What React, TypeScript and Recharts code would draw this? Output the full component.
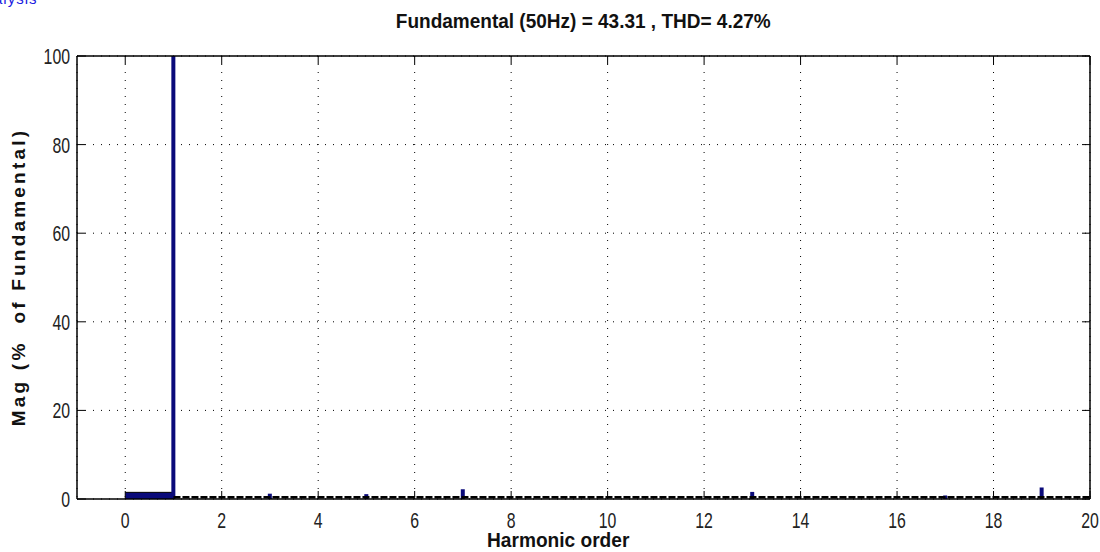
import React from "react";
import {
  ComposedChart,
  Bar,
  Line,
  Area,
  XAxis,
  YAxis,
  CartesianGrid,
} from "recharts";

// Harmonic spectrum (magnitude in % of fundamental)
const harmonicOrder = [1, 3, 5, 7, 13, 17, 19];
const magnitude = [100, 1.2, 1.1, 2.2, 1.6, 0.8, 2.6];

// Low-frequency band below the fundamental (0..1) drawn as a filled block
const bandOrder = [0, 1];
const bandLevel = [1.5, 1.5];

// Interharmonic floor above the fundamental
const floorOrder = [1, 20];
const floorLevel = [0.4, 0.4];

const xTicks = [0, 2, 4, 6, 8, 10, 12, 14, 16, 18, 20];
const yTicks = [0, 20, 40, 60, 80, 100];

const NAVY = "#0a0a7a";
const FONT = "'Liberation Sans', Arial, sans-serif";
const NARROW = 0.72; // horizontal squeeze to mimic the narrow screen font

// merge everything into one table keyed by harmonic order
const allX = Array.from(new Set([...harmonicOrder, ...bandOrder, ...floorOrder])).sort((a, b) => a - b);
const data = allX.map((x) => {
  const hi = harmonicOrder.indexOf(x);
  const bi = bandOrder.indexOf(x);
  const fi = floorOrder.indexOf(x);
  return {
    x,
    mag: hi >= 0 ? magnitude[hi] : null,
    band: bi >= 0 ? bandLevel[bi] : null,
    floor: fi >= 0 ? floorLevel[fi] : null,
  };
});

function BottomTick(props: any) {
  const { x, y, payload } = props;
  return (
    <g>
      <line x1={x} x2={x} y1={y} y2={y - 8} stroke="#000" />
      <text
        transform={`translate(${x},${y + 29}) scale(${NARROW},1)`}
        textAnchor="middle"
        fontFamily={FONT}
        fontSize={22}
        fill="#222"
      >
        {payload.value}
      </text>
    </g>
  );
}

function TopTick(props: any) {
  const { x, y } = props;
  return <line x1={x} x2={x} y1={y} y2={y + 8} stroke="#000" />;
}

function LeftTick(props: any) {
  const { x, y, payload } = props;
  return (
    <g>
      <line x1={x} x2={x + 8} y1={y} y2={y} stroke="#000" />
      <text
        transform={`translate(${x - 7},${y + 8}) scale(${NARROW},1)`}
        textAnchor="end"
        fontFamily={FONT}
        fontSize={22}
        fill="#222"
      >
        {payload.value}
      </text>
    </g>
  );
}

function RightTick(props: any) {
  const { x, y } = props;
  return <line x1={x} x2={x - 8} y1={y} y2={y} stroke="#000" />;
}

export default function App() {
  return (
    <div
      style={{
        position: "absolute",
        left: 0,
        top: 0,
        width: 1100,
        height: 552,
        overflow: "hidden",
        background: "#fff",
      }}
    >
      {/* window caption, mostly off the top edge */}
      <div
        style={{
          position: "absolute",
          left: -6,
          top: -9,
          fontFamily: FONT,
          fontSize: 15,
          lineHeight: "15px",
          letterSpacing: 1,
          color: "#2020e0",
        }}
      >
        alysis
      </div>

      <div
        style={{
          position: "absolute",
          left: 77,
          width: 1013,
          top: 10,
          textAlign: "center",
        }}
      >
        <span
          style={{
            display: "inline-block",
            transform: "scaleX(0.95)",
            fontFamily: FONT,
            fontSize: 20,
            fontWeight: "bold",
            color: "#111",
            whiteSpace: "nowrap",
          }}
        >
          Fundamental (50Hz) = 43.31 , THD= 4.27%
        </span>
      </div>

      <div
        style={{
          position: "absolute",
          left: 458,
          width: 200,
          top: 529,
          textAlign: "center",
        }}
      >
        <span
          style={{
            display: "inline-block",
            transform: "scaleX(0.91)",
            fontFamily: FONT,
            fontSize: 21,
            lineHeight: "22px",
            fontWeight: "bold",
            color: "#111",
            whiteSpace: "nowrap",
          }}
        >
          Harmonic order
        </span>
      </div>

      <div
        style={{
          position: "absolute",
          left: 19,
          top: 277,
          transform: "translate(-50%, -50%) rotate(-90deg)",
          whiteSpace: "nowrap",
          fontFamily: FONT,
          fontSize: 19,
          letterSpacing: 3.2,
          fontWeight: "bold",
          color: "#111",
        }}
      >
        Mag (% &nbsp;of Fundamental)
      </div>

      <ComposedChart
        width={1100}
        height={552}
        data={data}
        margin={{ top: 55, right: 9, bottom: 0, left: 0 }}
        style={{ position: "absolute", left: 0, top: 0 }}
      >
        <CartesianGrid stroke="#000" strokeDasharray="1 7" />
        <XAxis
          dataKey="x"
          type="number"
          domain={[-1, 20]}
          ticks={xTicks}
          interval={0}
          height={53}
          tickSize={0}
          tickMargin={0}
          tickLine={false}
          axisLine={{ stroke: "#000", strokeWidth: 1.5 }}
          tick={<BottomTick />}
          allowDataOverflow
        />
        <XAxis
          xAxisId="top"
          orientation="top"
          dataKey="x"
          type="number"
          domain={[-1, 20]}
          ticks={xTicks}
          interval={0}
          height={1}
          tickSize={0}
          tickMargin={0}
          tickLine={false}
          axisLine={{ stroke: "#000", strokeWidth: 1.5 }}
          tick={<TopTick />}
          allowDataOverflow
        />
        <YAxis
          type="number"
          domain={[0, 100]}
          ticks={yTicks}
          interval={0}
          width={77}
          tickSize={0}
          tickMargin={0}
          tickLine={false}
          axisLine={{ stroke: "#000", strokeWidth: 1.5 }}
          tick={<LeftTick />}
          allowDataOverflow
        />
        <YAxis
          yAxisId="right"
          orientation="right"
          type="number"
          domain={[0, 100]}
          ticks={yTicks}
          interval={0}
          width={1}
          tickSize={0}
          tickMargin={0}
          tickLine={false}
          axisLine={{ stroke: "#000", strokeWidth: 1.5 }}
          tick={<RightTick />}
          allowDataOverflow
        />
        <Area
          dataKey="band"
          type="linear"
          fill={NAVY}
          fillOpacity={1}
          stroke="#000"
          strokeWidth={1}
          connectNulls={false}
          dot={false}
          activeDot={false}
          isAnimationActive={false}
        />
        <Line
          dataKey="floor"
          type="linear"
          stroke="#000"
          strokeWidth={2.5}
          strokeDasharray="7 2"
          connectNulls
          dot={false}
          activeDot={false}
          isAnimationActive={false}
        />
        <Bar dataKey="mag" fill={NAVY} barSize={4} isAnimationActive={false} />
      </ComposedChart>
    </div>
  );
}
